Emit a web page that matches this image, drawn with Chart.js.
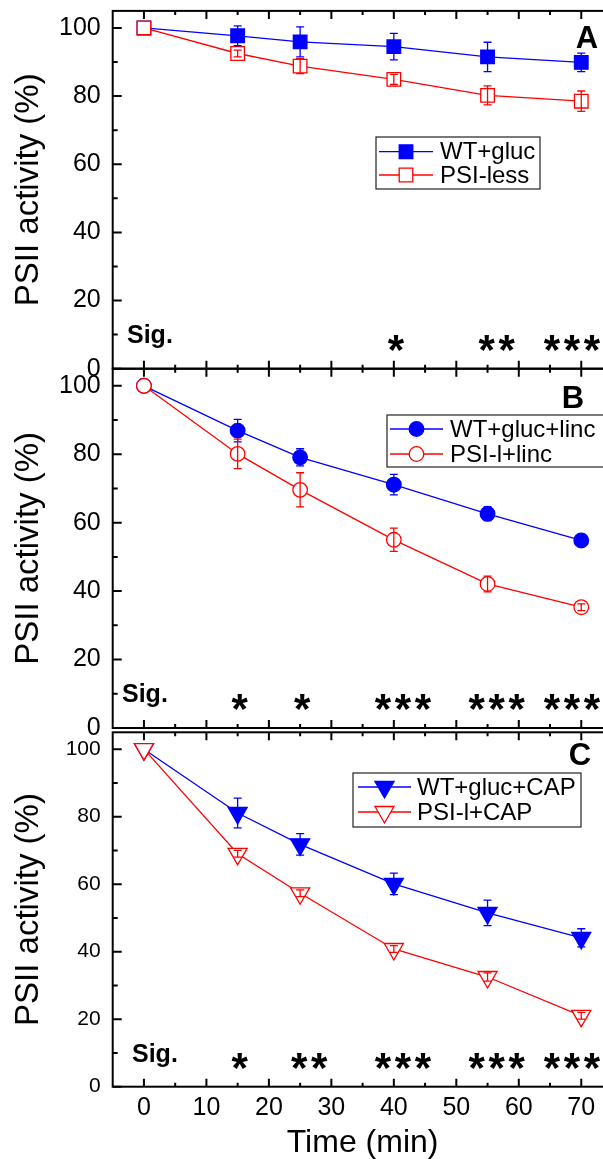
<!DOCTYPE html>
<html>
<head>
<meta charset="utf-8">
<script src="https://cdn.jsdelivr.net/npm/chart.js@4.4.0/dist/chart.umd.min.js"></script>
<style>
html, body { margin: 0; padding: 0; overflow: hidden; background: #fff; width: 603px; height: 1159px; }
canvas { position: absolute; left: 0; }
</style>
</head>
<body>
<canvas id="chartA" width="640" height="400" style="top:0px"></canvas>
<canvas id="chartB" width="640" height="400" style="top:360px"></canvas>
<canvas id="chartC" width="640" height="439" style="top:720px"></canvas>
<script>
// data
var times = [0, 15, 25, 40, 55, 70];
var xTicks = [0, 10, 20, 30, 40, 50, 60, 70];
var yTicks = [0, 20, 40, 60, 80, 100];

var wtGluc = [100, 97.7, 95.9, 94.5, 91.5, 89.9];
var wtGlucErr = [0, 2.9, 4.4, 3.9, 4.3, 2.7];
var psiLess = [100, 92.5, 88.8, 84.9, 80.2, 78.5];
var psiLessErr = [0, 1, 2.2, 1.5, 2.8, 3];

var wtLinc = [100, 86.9, 79.1, 71.1, 62.6, 54.8];
var wtLincErr = [0, 3.3, 2.5, 3, 2, 1.8];
var psiLinc = [100, 80.1, 69.6, 55, 42.1, 35.3];
var psiLincErr = [0, 4.3, 5, 3.4, 2.3, 1];

var wtCap = [100, 81.1, 71.8, 60.1, 51.5, 44.1];
var wtCapErr = [0, 4.4, 3.2, 3.2, 3.8, 2.7];
var psiCap = [100, 69, 57.3, 40.8, 32.5, 21];
var psiCapErr = [0, 1, 1, 1, 1.2, 1];

var sigA = ['', '', '', '*', '**', '***'];
var sigB = ['', '*', '*', '***', '***', '***'];
var sigC = ['', '*', '**', '***', '***', '***'];

var FONT = '"Liberation Sans", Arial, sans-serif';
var BLUE = '#0000ff', RED = '#ff0000';

function points(vals) {
    return times.map(function(t, i) { return {x: t, y: vals[i]}; });
}

function panel(cfg) {
    var top = cfg.canvasTop;

    var datasets = cfg.series.map(function(s) {
        return {
            label: s.label,
            data: points(s.values),
            borderColor: s.color,
            borderWidth: 1.3,
            pointStyle: s.style,
            pointRotation: s.rotation || 0,
            pointRadius: s.radius,
            pointBorderWidth: 1.3,
            pointBorderColor: s.color,
            pointBackgroundColor: s.filled ? s.color : '#fff',
            tension: 0,
            order: s.order
        };
    });

    var decor = {
        id: 'decor',
        beforeDatasetsDraw: function(chart) {
            var ctx = chart.ctx, a = chart.chartArea;
            var xs = chart.scales.x, ys = chart.scales.y;
            ctx.save();
            ctx.strokeStyle = '#000';
            ctx.lineWidth = 2;
            ctx.strokeRect(a.left, a.top, a.right - a.left, a.bottom - a.top);
            ctx.beginPath();
            for (var v = 0; v <= 70; v += 5) {
                var px = xs.getPixelForValue(v);
                var len = v % 10 === 0 ? 8 : 4;
                ctx.moveTo(px, a.bottom); ctx.lineTo(px, a.bottom - len);
                ctx.moveTo(px, a.top); ctx.lineTo(px, a.top + len);
            }
            for (var w = 0; w <= 100; w += 10) {
                var py = ys.getPixelForValue(w);
                var l2 = w % 20 === 0 ? 9 : 5;
                ctx.moveTo(a.left, py); ctx.lineTo(a.left + l2, py);
                ctx.moveTo(a.right, py); ctx.lineTo(a.right - l2, py);
            }
            ctx.stroke();
            ctx.restore();
        },
        afterDatasetsDraw: function(chart) {
            var ctx = chart.ctx;
            var xs = chart.scales.x, ys = chart.scales.y;
            ctx.save();

            // error bars
            cfg.series.forEach(function(s) {
                ctx.strokeStyle = s.color;
                ctx.lineWidth = 1.3;
                ctx.beginPath();
                s.errors.forEach(function(e, j) {
                    if (!e) return;
                    var px = xs.getPixelForValue(times[j]);
                    var hi = ys.getPixelForValue(s.values[j] + e);
                    var lo = ys.getPixelForValue(s.values[j] - e);
                    ctx.moveTo(px, hi); ctx.lineTo(px, lo);
                    ctx.moveTo(px - 4, hi); ctx.lineTo(px + 4, hi);
                    ctx.moveTo(px - 4, lo); ctx.lineTo(px + 4, lo);
                });
                ctx.stroke();
            });

            // legend
            var lg = cfg.legend;
            ctx.strokeStyle = '#222';
            ctx.lineWidth = 1.2;
            ctx.strokeRect(lg.x, lg.y - top, lg.w, lg.h);
            ctx.font = '24px ' + FONT;
            ctx.textBaseline = 'middle';
            ctx.textAlign = 'left';
            cfg.series.forEach(function(s, k) {
                var ry = lg.rows[k] - top;
                ctx.strokeStyle = s.color;
                ctx.lineWidth = 1.3;
                ctx.beginPath();
                ctx.moveTo(lg.segL, ry); ctx.lineTo(lg.segR, ry);
                ctx.stroke();
                ctx.fillStyle = s.filled ? s.color : '#fff';
                Chart.helpers.drawPoint(ctx, {
                    pointStyle: s.style, rotation: s.rotation || 0,
                    radius: s.radius, borderWidth: 1.3
                }, (lg.segL + lg.segR) / 2, ry);
                ctx.fillStyle = '#000';
                ctx.fillText(s.label, lg.textX, ry + 1);
            });

            // significance row
            ctx.fillStyle = '#000';
            ctx.font = 'bold 25px ' + FONT;
            ctx.textBaseline = 'middle';
            ctx.fillText('Sig.', cfg.sigX, ys.getPixelForValue(9.5));
            ctx.font = 'bold 42px ' + FONT;
            ctx.textAlign = 'center';
            ctx.textBaseline = 'alphabetic';
            var sy = ys.getPixelForValue(8.4) + 24;
            cfg.sig.forEach(function(s, j) {
                if (!s) return;
                var n = s.length, step = 20;
                var cx = xs.getPixelForValue(times[j]) + (n > 1 ? 9 : 2);
                var right = cx + (n - 1) * step / 2 + 8;
                if (right > 600) cx -= right - 600;
                for (var k = 0; k < n; k++) {
                    ctx.fillText('*', cx + (k - (n - 1) / 2) * step, sy);
                }
            });

            // panel letter
            ctx.font = 'bold 31px ' + FONT;
            ctx.textAlign = 'center';
            ctx.textBaseline = 'middle';
            ctx.fillText(cfg.letter, cfg.letterPos[0], cfg.letterPos[1] - top);
            ctx.restore();
        }
    };

    return new Chart(document.getElementById(cfg.id), {
        type: 'line',
        data: {datasets: datasets},
        options: {
            responsive: false,
            animation: false,
            layout: {padding: {left: 0, right: 27.5, top: cfg.padTop, bottom: cfg.padBottom}},
            plugins: {legend: {display: false}, tooltip: {enabled: false}},
            scales: {
                x: {
                    type: 'linear', min: -5, max: 75,
                    afterBuildTicks: function(s) { s.ticks = xTicks.map(function(v) { return {value: v}; }); },
                    afterFit: function(s) { s.height = cfg.xHeight; s.paddingLeft = 0; s.paddingRight = 0; },
                    grid: {display: false, drawTicks: false},
                    border: {display: false},
                    ticks: {display: cfg.showX, padding: 6, color: '#000', font: {family: FONT, size: 25}},
                    title: {display: cfg.showX, text: 'Time (min)', color: '#000', padding: 0,
                            font: {family: FONT, size: 32, lineHeight: 1}}
                },
                y: {
                    type: 'linear', min: 0, max: 105,
                    afterBuildTicks: function(s) { s.ticks = yTicks.map(function(v) { return {value: v}; }); },
                    afterFit: function(s) { s.width = 112.7; s.paddingTop = 0; s.paddingBottom = 0; },
                    grid: {display: false, drawTicks: false},
                    border: {display: false},
                    ticks: {padding: 12, color: '#000', font: {family: FONT, size: cfg.yFont}},
                    title: {display: true, text: 'PSII activity (%)', color: '#000', padding: {top: 9},
                            font: {family: FONT, size: 33}}
                }
            }
        },
        plugins: [decor]
    });
}

panel({
    id: 'chartA', canvasTop: 0, padTop: 9, padBottom: 31.3, xHeight: 0, showX: false, yFont: 25,
    letter: 'A', letterPos: [587, 39], sig: sigA, sigX: 127,
    legend: {x: 376, y: 137, w: 164, h: 52, rows: [151.7, 175], segL: 379, segR: 433, textX: 440},
    series: [
        {label: 'WT+gluc', values: wtGluc, errors: wtGlucErr, color: BLUE, style: 'rect', radius: 9.6, filled: true, order: 2},
        {label: 'PSI-less', values: psiLess, errors: psiLessErr, color: RED, style: 'rect', radius: 9.6, filled: false, order: 1}
    ]
});

panel({
    id: 'chartB', canvasTop: 360, padTop: 8.7, padBottom: 32, xHeight: 0, showX: false, yFont: 25,
    letter: 'B', letterPos: [573, 399], sig: sigB, sigX: 122,
    legend: {x: 387, y: 415, w: 230, h: 52, rows: [429, 454], segL: 390, segR: 443, textX: 450},
    series: [
        {label: 'WT+gluc+linc', values: wtLinc, errors: wtLincErr, color: BLUE, style: 'circle', radius: 7.3, filled: true, order: 2},
        {label: 'PSI-l+linc', values: psiLinc, errors: psiLincErr, color: RED, style: 'circle', radius: 7.3, filled: false, order: 1}
    ]
});

panel({
    id: 'chartC', canvasTop: 720, padTop: 8, padBottom: 0, xHeight: 72.3, showX: true, yFont: 21,
    letter: 'C', letterPos: [580, 756], sig: sigC, sigX: 132,
    legend: {x: 353, y: 773, w: 228, h: 54, rows: [787, 812], segL: 358, segR: 411, textX: 417},
    series: [
        {label: 'WT+gluc+CAP', values: wtCap, errors: wtCapErr, color: BLUE, style: 'triangle', rotation: 180, radius: 11, filled: true, order: 2},
        {label: 'PSI-l+CAP', values: psiCap, errors: psiCapErr, color: RED, style: 'triangle', rotation: 180, radius: 11, filled: false, order: 1}
    ]
});
</script>
</body>
</html>
